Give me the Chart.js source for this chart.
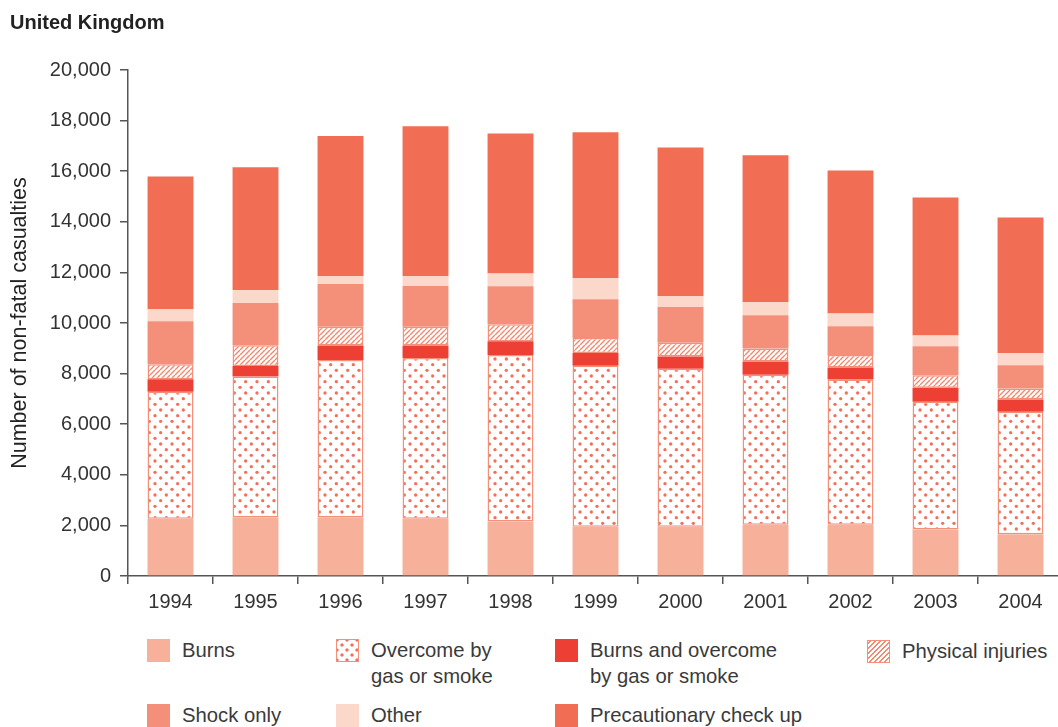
<!DOCTYPE html>
<html>
<head>
<meta charset="utf-8">
<script src="https://cdn.jsdelivr.net/npm/chart.js@4"></script>
<style>
  html, body { margin:0; padding:0; background:#fff; overflow:hidden; }
  #wrap { position:relative; width:1058px; height:727px; overflow:hidden; }
  #cv { position:absolute; left:0; top:0; }
  .t { position:absolute; font-family:"Liberation Sans", Arial, sans-serif; color:#333; }
  #title { left:10px; top:11px; font-size:20px; font-weight:bold; color:#222; }
  .sw { position:absolute; width:23px; height:23px; box-sizing:border-box; }
  .lt { position:absolute; font-family:"Liberation Sans", Arial, sans-serif; font-size:20.3px; line-height:26px; color:#3a3a3a; white-space:nowrap; }
</style>
</head>
<body>
<div id="wrap">
  <canvas id="cv" width="1063" height="625" style="width:1063px;height:625px"></canvas>
  <div id="title" class="t">United Kingdom</div>
  <div id="legend"></div>
</div>
<script>
const years = ['1994','1995','1996','1997','1998','1999','2000','2001','2002','2003','2004'];
const burns          = [2260, 2320, 2320, 2260, 2150, 1950, 1950, 2030, 2030, 1840, 1650];
const overcome       = [5020, 5570, 6220, 6360, 6590, 6360, 6240, 5920, 5740, 5050, 4840];
const burnsOvercome  = [ 500,  410,  570,  490,  540,  500,  490,  530,  470,  550,  490];
const physical       = [ 590,  820,  740,  740,  670,  600,  540,  510,  500,  490,  430];
const shockOnly      = [1700, 1670, 1690, 1610, 1500, 1530, 1410, 1320, 1130, 1150,  920];
const other          = [ 470,  510,  320,  400,  510,  830,  430,  510,  510,  430,  470];
const precautionary  = [5250, 4860, 5530, 5920, 5530, 5770, 5880, 5810, 5650, 5450, 5370];
const yTicks = [0, 2000, 4000, 6000, 8000, 10000, 12000, 14000, 16000, 18000, 20000];

const C_BURNS = '#f7b099', C_BO = '#ee3f34', C_SHOCK = '#f4907a', C_OTHER = '#fcd8ca', C_PREC = '#f16e55';
const C_DOT = '#f2705a', C_EDGE = '#f4907a', C_HATCH = '#f28a72';

function dotPattern() {
  const c = document.createElement('canvas');
  c.width = 34; c.height = 34;
  const g = c.getContext('2d');
  g.fillStyle = '#fff'; g.fillRect(0,0,34,34);
  g.fillStyle = C_DOT;
  const s = 34/3;
  for (let i=-1;i<=3;i++) for (let j=-1;j<=3;j++) {
    for (const [ox,oy] of [[0,0],[s/2,s/2]]) {
      g.beginPath(); g.arc(i*s+ox+2, j*s+oy+2, 1.65, 0, Math.PI*2); g.fill();
    }
  }
  return g.createPattern(c, 'repeat');
}
function hatchPattern() {
  const n = 5;
  const c = document.createElement('canvas');
  c.width = n; c.height = n;
  const g = c.getContext('2d');
  g.fillStyle = '#fff'; g.fillRect(0,0,n,n);
  g.strokeStyle = C_HATCH; g.lineWidth = 1.4;
  for (const o of [-n, 0, n]) {
    g.beginPath(); g.moveTo(o, n); g.lineTo(o+n, 0); g.stroke();
  }
  return g.createPattern(c, 'repeat');
}

const ctx = document.getElementById('cv').getContext('2d');
const common = { barPercentage: 0.54, categoryPercentage: 1.0, borderSkipped: false };
const datasets = [
  Object.assign({ label:'Burns', data: burns, backgroundColor: C_BURNS, borderWidth:0 }, common),
  Object.assign({ label:'Overcome by gas or smoke', data: overcome, backgroundColor: dotPattern(), borderColor: C_EDGE, borderWidth:1.5 }, common),
  Object.assign({ label:'Burns and overcome by gas or smoke', data: burnsOvercome, backgroundColor: C_BO, borderWidth:0 }, common),
  Object.assign({ label:'Physical injuries', data: physical, backgroundColor: hatchPattern(), borderColor: C_EDGE, borderWidth:1.5 }, common),
  Object.assign({ label:'Shock only', data: shockOnly, backgroundColor: C_SHOCK, borderWidth:0 }, common),
  Object.assign({ label:'Other', data: other, backgroundColor: C_OTHER, borderWidth:0 }, common),
  Object.assign({ label:'Precautionary check up', data: precautionary, backgroundColor: C_PREC, borderWidth:0 }, common)
];

const FONT = '"Liberation Sans", Arial, sans-serif';
new Chart(ctx, {
  type: 'bar',
  data: { labels: years, datasets },
  options: {
    responsive: false,
    animation: false,
    devicePixelRatio: 1,
    layout: { padding: { top: 70, left: 0, right: 0, bottom: 0 } },
    plugins: { legend: { display:false }, tooltip: { enabled:false }, title: { display:false } },
    scales: {
      x: {
        stacked: true,
        grid: { display: true, offset: true, drawOnChartArea: false, drawTicks: true, tickLength: 8, color: '#555', lineWidth: 1.5 },
        border: { display: true, color: '#555', width: 1.5 },
        ticks: { color: '#333', font: { family: FONT, size: 20 }, padding: 6, maxRotation: 0 },
        afterFit: s => { s.height = 49; }
      },
      y: {
        stacked: true,
        min: 0, max: 20000,
        afterBuildTicks: s => { s.ticks = yTicks.map(v => ({ value: v })); },
        grid: { display: true, drawOnChartArea: false, drawTicks: true, tickLength: 8, color: '#555', lineWidth: 1.5 },
        border: { display: true, color: '#555', width: 1.5 },
        ticks: { color: '#333', font: { family: FONT, size: 20 }, padding: 9 },
        title: { display: true, text: 'Number of non-fatal casualties', color: '#222', font: { family: FONT, size: 21.5 }, padding: { top: 7, bottom: 0 } },
        afterFit: s => { s.width = 128; }
      }
    }
  }
});

// HTML legend
const legendItems = [
  { x:147, y:639, kind:'solid', color:C_BURNS, lines:['Burns'] },
  { x:336, y:639, kind:'dots', lines:['Overcome by','gas or smoke'] },
  { x:555, y:639, kind:'solid', color:C_BO, lines:['Burns and overcome','by gas or smoke'] },
  { x:867, y:640, kind:'hatch', lines:['Physical injuries'] },
  { x:147, y:704, kind:'solid', color:C_SHOCK, lines:['Shock only'] },
  { x:336, y:704, kind:'solid', color:C_OTHER, lines:['Other'] },
  { x:555, y:704, kind:'solid', color:C_PREC, lines:['Precautionary check up'] }
];
const lg = document.getElementById('legend');
legendItems.forEach(it => {
  const sw = document.createElement('div');
  sw.className = 'sw';
  sw.style.left = it.x + 'px'; sw.style.top = it.y + 'px';
  if (it.kind === 'solid') sw.style.background = it.color;
  else if (it.kind === 'dots') {
    sw.style.border = '1.5px solid ' + C_EDGE;
    sw.style.background = 'radial-gradient(circle, ' + C_DOT + ' 1.4px, transparent 1.8px) 0 0/10px 10px, radial-gradient(circle, ' + C_DOT + ' 1.4px, transparent 1.8px) 5px 5px/10px 10px, #fff';
  } else {
    sw.style.border = '1.5px solid ' + C_EDGE;
    sw.style.background = 'repeating-linear-gradient(-45deg, #fff 0, #fff 2.2px, ' + C_HATCH + ' 2.2px, ' + C_HATCH + ' 3.6px)';
  }
  lg.appendChild(sw);
  const tx = document.createElement('div');
  tx.className = 'lt';
  tx.style.left = (it.x + 35) + 'px';
  tx.style.top = (it.y - 2) + 'px';
  tx.innerHTML = it.lines.join('<br>');
  lg.appendChild(tx);
});
</script>
</body>
</html>
